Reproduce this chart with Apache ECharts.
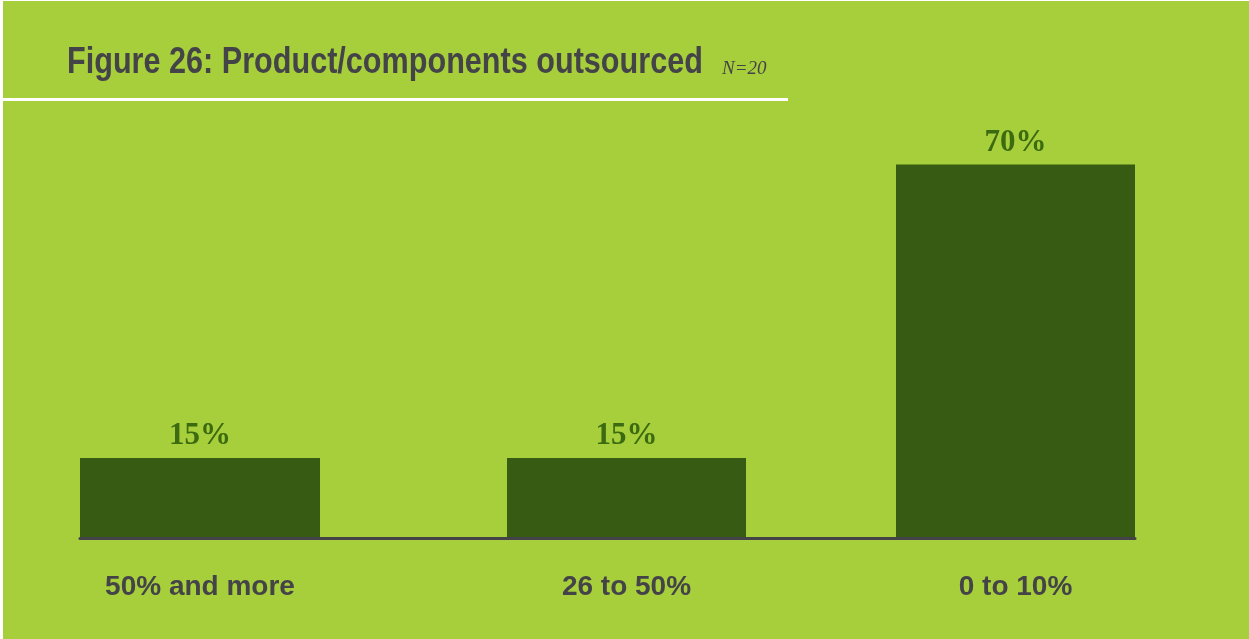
<!DOCTYPE html>
<html>
<head>
<meta charset="utf-8">
<script src="https://cdn.jsdelivr.net/npm/echarts@6/dist/echarts.min.js"></script>
<style>
  html, body { margin: 0; padding: 0; background: #ffffff; }
  #chart { position: absolute; left: 3px; top: 1px; width: 1246px; height: 638px; }
</style>
</head>
<body>
<div id="chart"></div>
<script>
// Share of product/components outsourced (N=20)
const categories = ['50% and more', '26 to 50%', '0 to 10%'];
const values = [15, 15, 70];

const titleText = 'Figure 26: Product/components outsourced';
const sampleText = 'N=20';

// Horizontal placement of each bar column (left edge and width in px)
const columns = [
  { left: 77, width: 240 },
  { left: 504, width: 239 },
  { left: 893, width: 239 }
];

const BG = '#a7cf3b';
const BAR = '#385b13';
const LABEL_GREEN = '#3c6a10';
const GREY = '#444448';
const PLOT_TOP = 110;
const PLOT_BOTTOM = 101;
const Y_MAX = 80;

const chart = echarts.init(document.getElementById('chart'), null, { renderer: 'canvas' });

// Full-width grid that only carries the baseline
const grids = [{ left: 77, right: 114, top: PLOT_TOP, bottom: PLOT_BOTTOM }];
const xAxes = [{
  gridIndex: 0, type: 'category', data: [''],
  axisLine: { show: true, lineStyle: { color: GREY, width: 3 } },
  axisTick: { show: false }, axisLabel: { show: false }, z: 5
}];
const yAxes = [{ gridIndex: 0, type: 'value', min: 0, max: Y_MAX, show: false }];
const series = [];

// One grid per column so the columns can sit at their own offsets
categories.forEach((cat, i) => {
  const g = i + 1;
  grids.push({ left: columns[i].left, width: columns[i].width, top: PLOT_TOP, bottom: PLOT_BOTTOM });
  xAxes.push({
    gridIndex: g, type: 'category', data: [cat],
    axisLine: { show: false }, axisTick: { show: false },
    axisLabel: {
      show: true, margin: 35, color: GREY,
      fontFamily: '"Liberation Sans", Arial, sans-serif',
      fontWeight: 'bold', fontSize: 28
    }
  });
  yAxes.push({ gridIndex: g, type: 'value', min: 0, max: Y_MAX, show: false });
  series.push({
    type: 'bar', xAxisIndex: g, yAxisIndex: g,
    data: [values[i]], barWidth: '100%',
    itemStyle: { color: BAR },
    label: {
      show: true, position: 'top', distance: 6,
      formatter: '{c}%', color: LABEL_GREEN,
      fontFamily: '"Liberation Serif", "DejaVu Serif", serif',
      fontWeight: 'bold', fontSize: 31
    },
    silent: true, animation: false
  });
});

chart.setOption({
  backgroundColor: BG,
  animation: false,
  graphic: [
    {
      // condensed heading
      type: 'text', x: 64, y: 44, scaleX: 0.85, silent: true,
      style: {
        text: titleText,
        font: 'bold 36px "Liberation Sans", Arial, sans-serif',
        fill: GREY, textVerticalAlign: 'top'
      }
    },
    {
      type: 'text', x: 719, y: 77, silent: true,
      style: {
        text: sampleText,
        font: 'italic 19px "Liberation Serif", serif',
        fill: GREY, textVerticalAlign: 'bottom'
      }
    },
    {
      type: 'rect', left: 0, top: 97, shape: { width: 785, height: 3 },
      style: { fill: '#ffffff' }, silent: true
    }
  ],
  grid: grids,
  xAxis: xAxes,
  yAxis: yAxes,
  series: series
});
</script>
</body>
</html>
